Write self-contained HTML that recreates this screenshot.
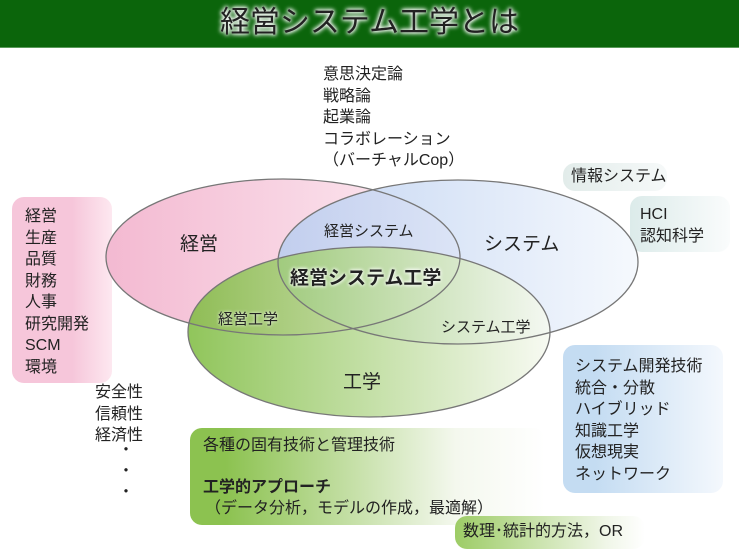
<!DOCTYPE html>
<html><head><meta charset="utf-8"><style>
body{margin:0;width:739px;height:554px;background:#fff;position:relative;overflow:hidden;font-family:"Liberation Sans","Noto Sans CJK JP",sans-serif;color:#222}
.t{position:absolute;font-size:16px;line-height:21.5px;white-space:nowrap}
.box{position:absolute;border-radius:12px}
</style></head><body>
<div style="position:absolute;left:0;top:0;width:739px;height:47px;background:#0b650b;border-bottom:1px solid #5a9a5a"></div>
<div style="position:absolute;left:0;top:4px;width:739px;text-align:center;font-size:30px;line-height:38px;color:#222;text-shadow:0 0 3px #fff,0 0 5px #fff,0 0 6px #fff">経営システム工学とは</div>

<div class="box" style="left:12px;top:197px;width:100px;height:186px;background:linear-gradient(90deg,#f6c6da 60%,#fde8f0)"></div>
<div class="box" style="left:563px;top:163px;width:104px;height:28px;background:linear-gradient(90deg,#e2ecea,#f6f9f9)"></div>
<div class="box" style="left:630px;top:196px;width:100px;height:56px;background:linear-gradient(90deg,#dcebea,#fafcfc)"></div>
<div class="box" style="left:563px;top:345px;width:160px;height:148px;background:linear-gradient(90deg,#c4dcf2 20%,#f4f8fd)"></div>
<div class="box" style="left:190px;top:428px;width:355px;height:97px;background:linear-gradient(90deg,#8cc250 10%,#f4f8ee 75%,#fff)"></div>
<div class="box" style="left:455px;top:516px;width:190px;height:33px;background:linear-gradient(90deg,#9dcc66,#f0f6e8 80%,#fff)"></div>

<svg style="position:absolute;left:0;top:0" width="739" height="554">
<defs>
<linearGradient id="gp" x1="0" x2="1"><stop offset="0" stop-color="#f3b9d1"/><stop offset="1" stop-color="#fdeef4"/></linearGradient>
<linearGradient id="gb" x1="0" x2="1"><stop offset="0" stop-color="#b8cdf0"/><stop offset="1" stop-color="#f4f8fd"/></linearGradient>
<linearGradient id="gg" x1="0" x2="1"><stop offset="0" stop-color="#7dbb3e"/><stop offset="1" stop-color="#f6f9f0"/></linearGradient>
</defs>
<ellipse cx="283" cy="257" rx="177" ry="78" fill="url(#gp)"/>
<ellipse cx="458" cy="262" rx="180" ry="82" fill="url(#gb)" fill-opacity="0.85"/>
<ellipse cx="369" cy="332" rx="181" ry="85" fill="url(#gg)" fill-opacity="0.85"/>
<g fill="none" stroke="#777" stroke-width="1.3">
<ellipse cx="283" cy="257" rx="177" ry="78"/>
<ellipse cx="458" cy="262" rx="180" ry="82"/>
<ellipse cx="369" cy="332" rx="181" ry="85"/>
</g>
</svg>

<div class="t" style="left:323px;top:64px">意思決定論<br>戦略論<br>起業論<br>コラボレーション<br>（バーチャルCop）</div>
<div class="t" style="left:25px;top:206px">経営<br>生産<br>品質<br>財務<br>人事<br>研究開発<br>SCM<br>環境</div>
<div class="t" style="left:95px;top:382px">安全性<br>信頼性<br>経済性</div>
<div class="t" style="left:118px;top:440px;line-height:21px">・<br>・<br>・</div>
<div class="t" style="left:571px;top:166px">情報システム</div>
<div class="t" style="left:640px;top:204px">HCI<br>認知科学</div>
<div class="t" style="left:575px;top:356px">システム開発技術<br>統合・分散<br>ハイブリッド<br>知識工学<br>仮想現実<br>ネットワーク</div>
<div class="t" style="left:203px;top:435px">各種の固有技術と管理技術</div>
<div class="t" style="left:203px;top:477px;font-weight:bold">工学的アプローチ</div>
<div class="t" style="left:205px;top:498px">（データ分析，モデルの作成，最適解）</div>
<div class="t" style="left:463px;top:521px">数理･統計的方法，OR</div>

<div class="t" style="left:180px;top:234px;font-size:19px">経営</div>
<div class="t" style="left:484px;top:234px;font-size:19px">システム</div>
<div class="t" style="left:324px;top:221px;font-size:15px">経営システム</div>
<div class="t" style="left:290px;top:268px;font-size:19px;font-weight:bold;text-shadow:0 0 3px #fff,0 0 4px #fff">経営システム工学</div>
<div class="t" style="left:218px;top:309px;font-size:15px;text-shadow:0 0 3px #fff">経営工学</div>
<div class="t" style="left:441px;top:317px;font-size:15px">システム工学</div>
<div class="t" style="left:343px;top:372px;font-size:19px">工学</div>
</body></html>
